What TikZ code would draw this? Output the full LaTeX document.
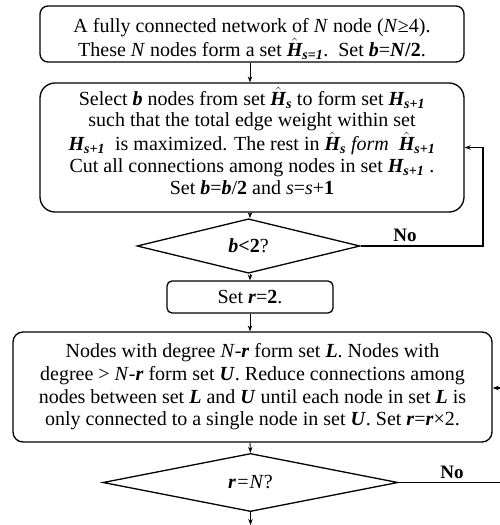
\documentclass[tikz,border=0pt]{standalone}
\usepackage{amsmath}
\usepackage{fontspec}
\setmainfont{Liberation Serif}
\usetikzlibrary{shapes.geometric,arrows.meta}

\newcommand{\bi}[1]{\textbf{\textit{#1}}}
\newcommand{\Hh}[1]{$\hat{\text{\bfseries\itshape H}}_{\text{\bfseries\itshape #1}}$}
\newcommand{\Hs}[1]{$\text{\bfseries\itshape H}_{\text{\bfseries\itshape #1}}$}

\tikzset{
	box/.style={draw, line width=1.3pt, rounded corners=8pt, align=center, inner sep=0pt},
	decision/.style={draw, diamond, line width=1.3pt, inner sep=0pt},
	flow/.style={line width=0.9pt, -{Stealth[length=6pt,width=4.5pt]}},
	loopline/.style={line width=1.1pt, -{Stealth[length=6pt,width=4.5pt]}}
}

\begin{document}
\begin{tikzpicture}[x=1pt, y=-1pt, font=\fontsize{20}{22.7}\selectfont]
	\useasboundingbox (0,0) rectangle (500,525);
	% boxes
	\node [box, minimum width=424pt, minimum height=56pt, text height=45pt, text depth=0pt] (start) at (252,34)
		{A fully connected network of \textit{N} node (\textit{N}≥4).\\
		These \textit{N} nodes form a set \Hh{s=1}.\enspace Set \bi{b}=\textbf{\textit{N}/2}.};
	\node [box, rounded corners=15pt, minimum width=424pt, minimum height=129pt, text depth=14pt,
		font=\fontsize{20}{21.7}\selectfont] (select) at (252,147.5)
		{Select \bi{b} nodes from set \Hh{s} to form set \Hs{s+1}\\
		such that the total edge weight within set\\
		\Hs{s+1}\enspace is maximized. The rest in \Hh{s} \textit{form}\enspace\Hh{s+1}\\
		Cut all connections among nodes in set \Hs{s+1} .\\
		Set \bi{b}=\bi{b}/\textbf{2} and \textit{s}=\textit{s}+\textbf{1}};
	\node [decision, minimum width=223pt, minimum height=33pt] (halt) at (248.5,246) {\bi{b}\textbf{<2}?};
	\node [box, rounded corners=5pt, minimum width=166pt, minimum height=32pt] (setr) at (250,297) {Set \bi{r}=\textbf{2}.};
	\node [box, rounded corners=10pt, minimum width=479pt, minimum height=110pt] (reduce) at (252.5,387)
		{Nodes with degree \textit{N}-\bi{r} form set \bi{L}. Nodes with\\
		degree > \textit{N}-\bi{r} form set \bi{U}. Reduce connections among\\
		nodes between set \bi{L} and \bi{U} until each node in set \bi{L} is\\
		only connected to a single node in set \bi{U}. Set \bi{r}=\bi{r}×2.};
	\node [decision, minimum width=295pt, minimum height=31pt] (done) at (250.5,482.5) {\bi{r}\textit{=N}?};
	% labels
	\node [font=\fontsize{19}{20}\selectfont\bfseries] (noA) at (405,235) {No};
	\node [font=\fontsize{19}{20}\selectfont\bfseries] (noB) at (452,472) {No};
	% free ends
	\coordinate (loopA) at (483,147.5);
	\coordinate (loopB) at (503,388);
	\coordinate (finish) at (250.5,525);
	% connectors
	\draw [flow] (start.south -| setr.north) -- (select.north -| setr.north);
	\draw [flow] (select.south -| setr.north) -- (halt.north -| setr.north);
	\draw [flow] (halt.south -| setr.north) -- (setr.north);
	\draw [flow] (setr.south) -- (reduce.north -| setr.south);
	\draw [flow] (reduce.south -| setr.south) -- (done.north);
	\draw [flow] (done.south) -- (finish);
	\draw [loopline] (halt.east) -| (loopA) -- (select.east);
	\draw [loopline] (done.east) -| (loopB) -- (reduce.east |- loopB);
\end{tikzpicture}
\end{document}
